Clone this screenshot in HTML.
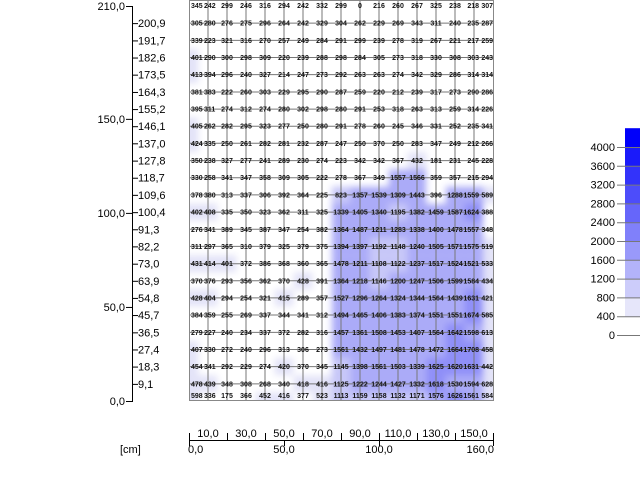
<!DOCTYPE html>
<html><head><meta charset="utf-8"><style>
html,body{margin:0;padding:0;background:#fff;}
svg{display:block;font-family:"Liberation Sans",sans-serif;}
</style></head><body>
<svg id="chart" width="640" height="480" viewBox="0 0 640 480">
<defs>
<filter id="blur" x="-5%" y="-5%" width="110%" height="110%"><feGaussianBlur stdDeviation="3.5"/></filter>
<clipPath id="clip"><rect x="189" y="0" width="305" height="401"/></clipPath>
</defs>
<g clip-path="url(#clip)"><g id="heat" filter="url(#blur)"></g></g>
<g id="grid"></g>
<g id="labels"></g>
<rect x="189.5" y="0.5" width="304" height="400" fill="none" stroke="#888"/>
<g id="yaxis"></g>
<g id="xaxis"></g>
<g id="cbar"></g>
</svg>
<script>
const xCats=[0,10,20,30,40,50,60,70,80,90,100,110,120,130,140,150,160];
const rowCm=[210,200.9,191.7,182.6,173.5,164.3,155.2,146.1,137,127.8,118.7,109.6,100.4,91.3,82.2,73,63.9,54.8,45.7,36.5,27.4,18.3,9.1,0];
const values=[
[345,242,299,246,316,294,242,332,299,0,216,260,267,325,238,218,307],
[305,280,276,275,296,264,242,329,304,262,229,269,343,311,240,235,287],
[339,223,321,316,270,257,249,284,291,299,239,278,319,267,221,217,259],
[401,290,300,298,309,220,239,288,298,284,305,273,318,330,308,303,243],
[413,394,296,240,327,214,247,273,292,263,263,274,342,329,286,314,314],
[381,383,222,260,303,229,295,290,287,259,220,212,239,317,273,290,286],
[395,311,274,312,274,280,302,298,280,291,253,318,263,313,259,314,226],
[405,262,282,295,323,277,250,280,291,278,260,245,346,331,252,235,341],
[424,335,250,261,282,281,232,287,247,250,370,250,283,347,249,212,266],
[350,238,327,277,241,289,230,274,223,342,342,367,432,181,231,245,228],
[330,258,341,347,358,309,305,222,278,367,349,1557,1566,359,357,215,294],
[378,380,313,337,306,392,364,225,823,1357,1539,1309,1443,396,1288,1559,589],
[402,408,335,350,323,362,311,325,1339,1405,1340,1195,1382,1459,1587,1624,388],
[276,341,389,345,387,347,254,382,1364,1487,1211,1283,1338,1400,1478,1557,348],
[311,297,365,310,379,325,379,375,1394,1397,1192,1148,1240,1505,1571,1575,519],
[431,414,401,372,386,368,360,365,1478,1211,1108,1122,1237,1517,1524,1521,533],
[370,376,293,356,362,370,428,391,1364,1218,1146,1200,1247,1506,1599,1584,434],
[428,404,294,254,321,415,289,357,1527,1296,1264,1324,1344,1564,1439,1631,421],
[384,359,255,269,337,344,341,312,1494,1465,1406,1383,1374,1551,1551,1674,585],
[279,227,240,234,337,372,282,316,1457,1361,1508,1453,1407,1564,1642,1598,613],
[407,330,272,240,296,313,306,273,1561,1432,1497,1481,1478,1472,1664,1708,458],
[454,341,292,229,274,420,370,345,1145,1398,1561,1503,1339,1625,1620,1631,442],
[478,439,348,308,268,340,418,416,1125,1222,1244,1427,1332,1618,1530,1594,628],
[598,336,175,366,452,416,377,523,1113,1159,1158,1132,1171,1576,1626,1561,584]];
const yMajor=["210,0","150,0","100,0","50,0","0,0"];
const yMajorVal=[210,150,100,50,0];
const xTopVal=[10,30,50,70,90,110,130,150];
const xBotVal=[0,50,100,160];
const cbTicks=[0,400,800,1200,1600,2000,2400,2800,3200,3600,4000];

const NS="http://www.w3.org/2000/svg";
const X=v=>189+v*1.9;
const Y=v=>401-v*(395/210);
const CY=v=>335-v*0.047;
function col(v){const b=Math.min(11,Math.floor(v/400));const c=Math.max(0,Math.round(255-28*b));return `rgb(${c},${c},${b==0?255:248})`;}
function mk(tag,parent,attrs){const e=document.createElementNS(NS,tag);for(const k in attrs)e.setAttribute(k,attrs[k]);document.getElementById(parent).appendChild(e);return e;}
function fmt(v){return (Math.round(v*10)/10).toFixed(1).replace('.',',');}

// heat cells
values.forEach((row,r)=>row.forEach((v,c)=>{
 let x=X(xCats[c])-9.5, y=Y(rowCm[r])-8.6, w=19.5, h=17.6;
 if(c==0){x-=12;w+=12;} if(c==16){w+=12;}
 if(r==0){y-=12;h+=12;} if(r==23){h+=12;}
 const e=mk('rect','heat',{x:x,y:y,width:w,height:h,fill:col(v)});
 
 
}));
// grid
xCats.slice(1,16).forEach(v=>{const e=mk('line','grid',{x1:X(v),x2:X(v),y1:0,y2:401,stroke:'#777','stroke-width':1});
 
 });
rowCm.slice(1,23).forEach(v=>{const e=mk('line','grid',{x1:189,x2:494,y1:Y(v),y2:Y(v),stroke:'#777','stroke-width':1});
 
 });
// labels
values.forEach((row,r)=>row.forEach((v,c)=>{
 let x=X(xCats[c]), y=Y(rowCm[r])+2.5, anchor='middle';
 if(c==0){x=191;anchor='start';} if(c==1){x=X(10)-4;anchor='start';}
 if(c==16){x=493;anchor='end';} if(c==15){x=X(150)+5;anchor='end';}
 if(r==0)y=8; if(r==23)y=398;
 const e=mk('text','labels',{x:x,y:y,'font-size':7,'font-weight':'bold','text-anchor':anchor,fill:'#111'});
 e.textContent=v;
 
 
}));
// y axis
mk('line','yaxis',{x1:132.5,x2:132.5,y1:6,y2:401,stroke:'#000'});
yMajorVal.forEach((v,i)=>{mk('line','yaxis',{x1:126,x2:133,y1:Y(v)+0.5,y2:Y(v)+0.5,stroke:'#000'});
 const t=mk('text','yaxis',{x:125,y:Y(v)+4,'font-size':11,'text-anchor':'end'});t.textContent=yMajor[i];
 
 });
rowCm.slice(1,23).forEach(v=>{mk('line','yaxis',{x1:132,x2:138,y1:Y(v)+0.5,y2:Y(v)+0.5,stroke:'#000'});
 const t=mk('text','yaxis',{x:138,y:Y(v)+4,'font-size':11});t.textContent=fmt(v);
 
 });
// x axis
mk('line','xaxis',{x1:189,x2:494,y1:440.5,y2:440.5,stroke:'#000'});
for(let v=0;v<=160;v+=20){mk('line','xaxis',{x1:X(v)+0.5,x2:X(v)+0.5,y1:433,y2:441,stroke:'#000'});}
xBotVal.forEach(v=>{mk('line','xaxis',{x1:X(v)+0.5,x2:X(v)+0.5,y1:440,y2:446,stroke:'#000'});});
xTopVal.forEach(v=>{const t=mk('text','xaxis',{x:X(v),y:437,'font-size':11,'text-anchor':'middle'});t.textContent=fmt(v);
 
 });
xBotVal.forEach((v,i)=>{const t=mk('text','xaxis',{x:i==0?X(v)-1:(i==3?X(v)+1:X(v)),y:453,'font-size':11,'text-anchor':i==0?'start':(i==3?'end':'middle')});t.textContent=fmt(v);
 
 });
{const t=mk('text','xaxis',{x:120,y:453,'font-size':11});t.textContent='[cm]';
 
 }
// colour legend
function lcol(v){const b=Math.min(11,Math.floor(v/400));const c=Math.max(0,Math.round(255-25.5*b));return `rgb(${c},${c},${b==0?255:250})`;}
for(let v=400;v<4400;v+=400){const e=mk('rect','cbar',{x:625,y:CY(v+400),width:15,height:CY(v)-CY(v+400)+0.5,fill:lcol(v+1)});
 
 }
cbTicks.forEach(v=>{mk('line','cbar',{x1:617,x2:640,y1:CY(v)+0.5,y2:CY(v)+0.5,stroke:'#777'});
 const t=mk('text','cbar',{x:615,y:CY(v)+4,'font-size':11,'text-anchor':'end'});t.textContent=v;
 
 });
</script>
</body></html>
